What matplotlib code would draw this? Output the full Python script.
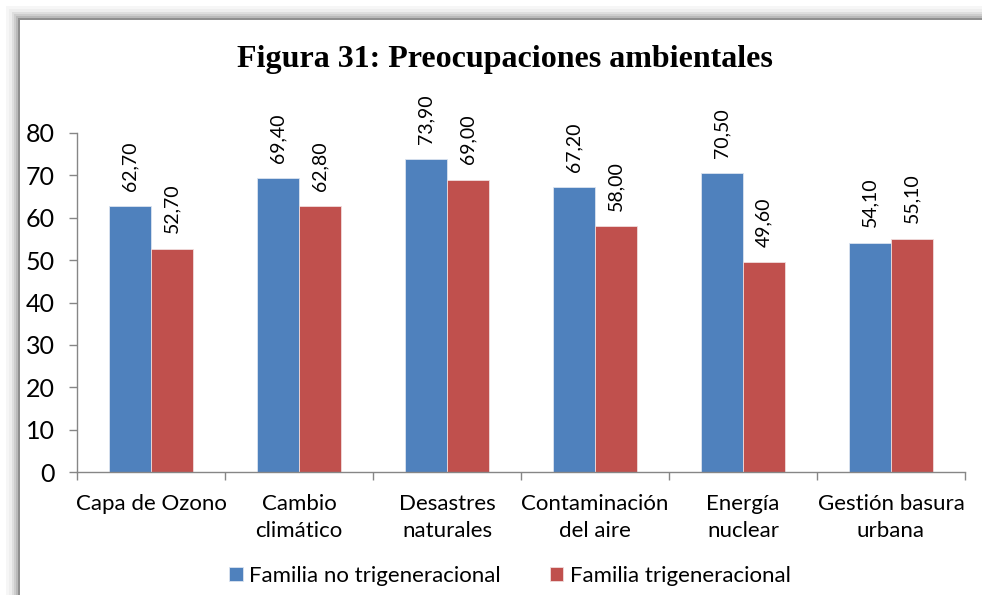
import numpy as np
import matplotlib.pyplot as plt
from matplotlib.patches import Rectangle

# Data
categorias = ['Capa de Ozono', 'Cambio\nclimático', 'Desastres\nnaturales',
              'Contaminación\ndel aire', 'Energía\nnuclear', 'Gestión basura\nurbana']
no_trigen = [62.7, 69.4, 73.9, 67.2, 70.5, 54.1]
trigen = [52.7, 62.8, 69.0, 58.0, 49.6, 55.1]
series = ['Familia no trigeneracional', 'Familia trigeneracional']
colores = ['#4F81BD', '#C0504D']

W, H = 982, 595
fig = plt.figure(figsize=(W / 100, H / 100), dpi=100)
fig.patch.set_facecolor('white')

# Excel-like frame with shadow (left/top visible)
shades = [(6, '#f6f6f6'), (9, '#eeeeee'), (12, '#dedede'), (14, '#cdcdcd'),
          (16, '#b9b9b9'), (18, '#8f8f8f'), (20, 'white')]
for off, c in shades:
    fig.patches.append(Rectangle((off / W, -0.1), 1.2, 1.1 - off / H,
                                 transform=fig.transFigure, facecolor=c,
                                 edgecolor='none', zorder=-10))

ax = fig.add_axes([77 / W, (H - 472) / H, (965 - 77) / W, (472 - 133) / H])
ax.set_facecolor('none')

fam = 'Lato'
x = np.arange(len(categorias))
w = 0.284
b1 = ax.bar(x - w / 2, no_trigen, w, color=colores[0], edgecolor='#dbe4f0',
            linewidth=0.6, label=series[0])
b2 = ax.bar(x + w / 2, trigen, w, color=colores[1], edgecolor='#f0dcdc',
            linewidth=0.6, label=series[1])

for bars, vals in ((b1, no_trigen), (b2, trigen)):
    for r, v in zip(bars, vals):
        ax.annotate(f'{v:.2f}'.replace('.', ','),
                    (r.get_x() + r.get_width() / 2, v),
                    xytext=(0, 11), textcoords='offset points',
                    rotation=90, ha='center', va='bottom',
                    fontsize=14, family=fam, color='black')

ax.set_ylim(0, 80)
ax.set_xlim(-0.5, len(categorias) - 0.5)
ax.set_yticks(range(0, 81, 10))
ax.tick_params(axis='y', direction='out', length=6, width=1, color='#868686',
               pad=10, labelsize=18)
ax.set_xticks(x)
ax.set_xticklabels(categorias, fontsize=16, family=fam, linespacing=1.45)
ax.tick_params(axis='x', which='major', length=0, pad=16)
ax.set_xticks(np.arange(-0.5, len(categorias), 1), minor=True)
ax.tick_params(axis='x', which='minor', direction='out', length=6, width=1,
               color='#868686')
for lab in ax.get_yticklabels():
    lab.set_family(fam)

for s in ('top', 'right'):
    ax.spines[s].set_visible(False)
for s in ('left', 'bottom'):
    ax.spines[s].set_color('#868686')
    ax.spines[s].set_linewidth(1)

fig.text(505 / W, 1 - 60 / H, 'Figura 31: Preocupaciones ambientales',
         ha='center', va='center', fontsize=23, fontweight='bold',
         family='Liberation Serif')

fig.legend(handles=[b1, b2], labels=series, loc='center',
           bbox_to_anchor=(510 / W, 1 - 576 / H), ncol=2, frameon=False,
           prop={'family': fam, 'size': 16}, handlelength=0.6,
           handleheight=0.6, handletextpad=0.3, columnspacing=2.2)

fig.savefig('out.png', dpi=100)
